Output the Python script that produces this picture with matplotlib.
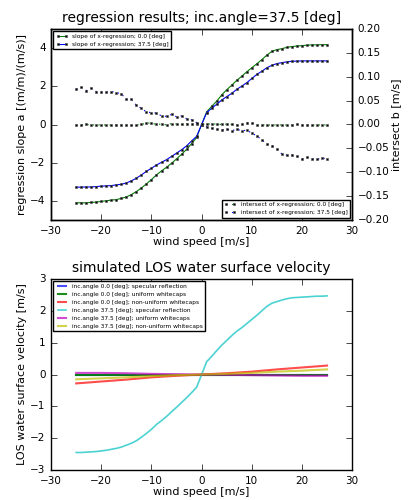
import matplotlib
matplotlib.use("Agg")
import matplotlib.pyplot as plt

plt.style.use("classic")
plt.rcParams["font.family"] = ["DejaVu Sans"]

# wind speed grid [m/s]
wind = list(range(-25, 26))

# regression slope a, inc.angle 0.0 / 37.5 deg
slope_00 = [-4.10, -4.10, -4.10, -4.08, -4.06, -4.03, -3.99, -3.96, -3.93, -3.87,
            -3.79, -3.67, -3.51, -3.32, -3.11, -2.88, -2.64, -2.43, -2.24, -2.03,
            -1.80, -1.56, -1.30, -1.00, -0.68, 0.00,
            0.66, 0.95, 1.22, 1.55, 1.82, 2.06, 2.31, 2.53, 2.76, 2.97,
            3.18, 3.40, 3.63, 3.83, 3.92, 3.97, 4.04, 4.08, 4.11, 4.13,
            4.15, 4.17, 4.17, 4.18, 4.18]
slope_375 = [-3.28, -3.28, -3.27, -3.27, -3.25, -3.23, -3.21, -3.20, -3.16, -3.13,
             -3.06, -2.95, -2.81, -2.64, -2.45, -2.29, -2.12, -1.98, -1.84, -1.67,
             -1.50, -1.32, -1.12, -0.86, -0.62, 0.00,
             0.62, 0.85, 1.06, 1.28, 1.46, 1.63, 1.84, 2.01, 2.19, 2.41,
             2.62, 2.79, 2.97, 3.10, 3.19, 3.24, 3.28, 3.31, 3.32, 3.33,
             3.33, 3.33, 3.33, 3.33, 3.33]

# regression intersect b [m/s]
inter_00 = [-0.001, -0.001, 0.000, -0.001, -0.001, -0.001, -0.001, -0.001, -0.001, -0.001,
            -0.001, -0.002, -0.001, 0.000, 0.003, 0.003, 0.000, 0.001, -0.001, 0.002,
            0.001, 0.000, 0.002, 0.001, 0.001, 0.000,
            0.001, 0.001, 0.001, 0.000, 0.001, 0.000, -0.001, 0.000, 0.004, 0.004,
            -0.001, -0.001, -0.001, -0.001, -0.001, -0.001, -0.001, -0.001, 0.000, -0.001,
            -0.001, -0.001, -0.001, -0.001, -0.001]
inter_375 = [0.074, 0.078, 0.071, 0.076, 0.069, 0.068, 0.068, 0.069, 0.067, 0.064,
             0.053, 0.053, 0.040, 0.034, 0.026, 0.025, 0.024, 0.018, 0.017, 0.021,
             0.016, 0.018, 0.012, 0.010, 0.004, 0.000,
             -0.005, -0.008, -0.010, -0.011, -0.010, -0.013, -0.010, -0.013, -0.012, -0.018,
             -0.024, -0.032, -0.041, -0.044, -0.051, -0.062, -0.064, -0.064, -0.067, -0.072,
             -0.069, -0.072, -0.073, -0.070, -0.072]

# simulated LOS velocity [m/s]
los_375_spec = [-2.45, -2.45, -2.44, -2.43, -2.42, -2.40, -2.38, -2.35, -2.32, -2.28,
                -2.22, -2.16, -2.08, -1.97, -1.85, -1.72, -1.57, -1.45, -1.32, -1.17,
                -1.03, -0.88, -0.73, -0.57, -0.40, 0.00,
                0.40, 0.57, 0.75, 0.92, 1.07, 1.22, 1.36, 1.47, 1.60, 1.73,
                1.86, 2.00, 2.14, 2.24, 2.29, 2.34, 2.38, 2.41, 2.42, 2.43,
                2.44, 2.45, 2.46, 2.46, 2.47]
wind_c = [-25, -20, -15, -10, -5, 0, 5, 10, 15, 20, 25]
los_00_spec = [0.0, 0.0, 0.0, 0.0, 0.0, 0.0, 0.0, 0.0, 0.0, 0.0, 0.0]
los_00_unif = [0.0, 0.0, 0.0, 0.0, 0.0, 0.0, 0.0, 0.0, 0.0, 0.0, 0.0]
los_00_nonu = [-0.28, -0.22, -0.16, -0.09, -0.04, 0.0, 0.04, 0.09, 0.16, 0.22, 0.28]
los_375_unif = [0.05, 0.05, 0.04, 0.02, 0.01, 0.0, -0.01, -0.02, -0.03, -0.04, -0.04]
los_375_nonu = [-0.15, -0.12, -0.09, -0.05, -0.02, 0.0, 0.02, 0.05, 0.09, 0.12, 0.16]

fig = plt.figure(figsize=(4.09, 5.0), dpi=100)
fig.patch.set_facecolor("white")

tick_fs = 7.5
lab_fs = 8
leg_fs = 4.2
mk = dict(marker="s", ms=1.7, mfc="k", mec="0.3", mew=0.4)

# ---- top panel: regression results
ax = fig.add_axes([0.125, 0.56, 0.736, 0.382])
ax.plot(wind, slope_00, "g-", lw=0.8, label="slope of x-regression; 0.0 [deg]", **mk)
ax.plot(wind, slope_375, "b-", lw=0.8, label="slope of x-regression; 37.5 [deg]", **mk)
ax.set_xlim(-30, 30)
ax.set_ylim(-5, 5)
ax.set_yticks([-4, -2, 0, 2, 4])
ax.set_xlabel("wind speed [m/s]", fontsize=lab_fs, labelpad=1)
ax.set_ylabel("regression slope a [(m/m)/(m/s)]", fontsize=lab_fs, labelpad=2)
ax.set_title("regression results; inc.angle=37.5 [deg]", fontsize=10)
ax.tick_params(labelsize=tick_fs)
ax.legend(loc="upper left", fontsize=leg_fs, borderaxespad=0.4)

ax2 = ax.twinx()
ax2.plot(wind, inter_00, "g:", lw=0.8, label="intersect of x-regression; 0.0 [deg]", **mk)
ax2.plot(wind, inter_375, "b:", lw=0.8, label="intersect of x-regression; 37.5 [deg]", **mk)
ax2.set_ylim(-0.2, 0.2)
ax2.set_yticks([-0.2, -0.15, -0.1, -0.05, 0.0, 0.05, 0.1, 0.15, 0.2])
ax2.set_ylabel("intersect b [m/s]", fontsize=lab_fs, labelpad=1)
ax2.tick_params(labelsize=tick_fs)
ax2.legend(loc="lower right", fontsize=leg_fs, borderaxespad=0.4)

# ---- bottom panel: simulated LOS velocity
bx = fig.add_axes([0.125, 0.06, 0.736, 0.382])
bx.plot(wind_c, los_00_spec, "b-", lw=1.5, alpha=0.7,
        label="inc.angle 0.0 [deg]; specular reflection")
bx.plot(wind_c, los_00_unif, "g-", lw=1.5, alpha=0.9,
        label="inc.angle 0.0 [deg]; uniform whitecaps")
bx.plot(wind_c, los_00_nonu, "r-", lw=1.5, alpha=0.7,
        label="inc.angle 0.0 [deg]; non-uniform whitecaps")
bx.plot(wind, los_375_spec, "c-", lw=1.2, alpha=0.7,
        label="inc.angle 37.5 [deg]; specular reflection")
bx.plot(wind_c, los_375_unif, "m-", lw=1.5, alpha=0.7,
        label="inc.angle 37.5 [deg]; uniform whitecaps")
bx.plot(wind_c, los_375_nonu, "y-", lw=1.5, alpha=0.7,
        label="inc.angle 37.5 [deg]; non-uniform whitecaps")
bx.set_xlim(-30, 30)
bx.set_ylim(-3, 3)
bx.set_xlabel("wind speed [m/s]", fontsize=lab_fs, labelpad=1)
bx.set_ylabel("LOS water surface velocity [m/s]", fontsize=lab_fs, labelpad=2)
bx.set_title("simulated LOS water surface velocity", fontsize=10)
bx.tick_params(labelsize=tick_fs)
bx.legend(loc="upper left", fontsize=leg_fs, borderaxespad=0.4)

fig.savefig("out.png", dpi=100, facecolor="white")
